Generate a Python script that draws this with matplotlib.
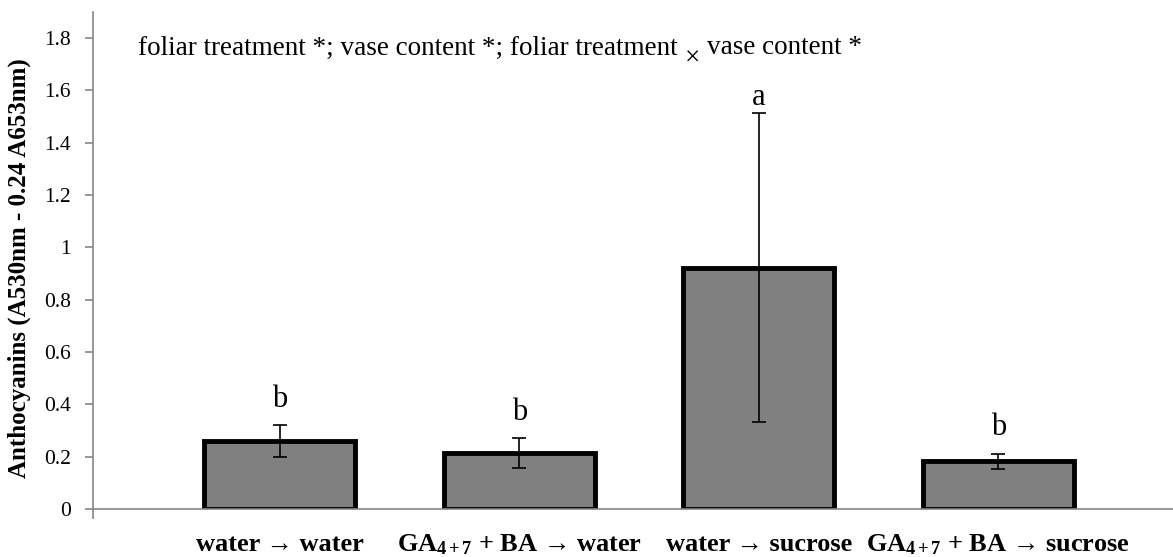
import matplotlib
matplotlib.use("Agg")
import matplotlib.pyplot as plt
import numpy as np

categories = [r"water → water", r"GA$_{\mathbf{4+7}}$ + BA → water",
              r"water → sucrose", r"GA$_{\mathbf{4+7}}$ + BA → sucrose"]
values = [0.26, 0.214, 0.922, 0.182]
errors = [0.06, 0.057, 0.59, 0.03]
letters = ["b", "b", "a", "b"]

plt.rcParams['font.family'] = ['Liberation Serif', 'DejaVu Serif']
plt.rcParams['mathtext.fontset'] = 'custom'
plt.rcParams['mathtext.rm'] = 'Liberation Serif'
plt.rcParams['mathtext.bf'] = 'Liberation Serif:bold'
plt.rcParams['mathtext.it'] = 'Liberation Serif:italic'

fig = plt.figure(figsize=(11.73, 5.57), dpi=100)
ax = fig.add_axes([93/1173, 48/557, 1 - 93/1173, (509-12)/557])

x = np.arange(len(categories))
ax.bar(x, values, width=0.63, color='#808080', edgecolor='black', linewidth=3.5, zorder=2)
ax.errorbar(x, values, yerr=errors, fmt='none', ecolor='black', elinewidth=1.2,
            capsize=5, capthick=1.2, zorder=3)
for xi, v, e, l in zip(x, values, errors, letters):
    off = 8 if l == 'b' else 1
    ax.annotate(l, (xi, v + e), xytext=(0, off), textcoords='offset points',
                ha='center', va='bottom', fontsize=22)

xmin = -0.78
ax.set_xlim(xmin, 3.73)
ax.set_ylim(0, 1.9)
ax.set_yticks(np.arange(0, 1.81, 0.2))
ax.set_yticklabels(['0', '0.2', '0.4', '0.6', '0.8', '1', '1.2', '1.4', '1.6', '1.8'], fontsize=15.5)
ax.set_xticks(x)
ax.set_xticklabels(categories, fontsize=19, fontweight='bold')
ax.set_xticks([xmin], minor=True)
ax.tick_params(axis='x', which='major', length=0, pad=17)
ax.tick_params(axis='x', which='minor', length=7, color='#868686', width=1.2)
ax.tick_params(axis='y', length=6, color='#868686', width=1.2, direction='out', pad=10)
for s in ['top', 'right']:
    ax.spines[s].set_visible(False)
ax.spines['left'].set_color('#868686')
ax.spines['bottom'].set_color('#868686')
ax.spines['left'].set_linewidth(1.2)
ax.spines['bottom'].set_linewidth(1.2)

ax.set_ylabel('Anthocyanins (A530nm - 0.24 A653nm)', fontsize=18, fontweight='bold')
ax.yaxis.set_label_coords((31 - 93) / 1080, (509 - 268) / 497)

# significance note, with a lowered multiplication sign
t1 = fig.text(138/1173, 1 - 48/557, 'foliar treatment *; vase content *; foliar treatment',
              fontsize=19.5, va='center', ha='left')
t2 = ax.annotate('×', xy=(1, 0.5), xycoords=t1, xytext=(5, -8), textcoords='offset points',
                 fontsize=19.5, va='center', ha='left', annotation_clip=False)
t3 = ax.annotate('vase content *', xy=(1, 0.5), xycoords=t2, xytext=(5, 8), textcoords='offset points',
                 fontsize=19.5, va='center', ha='left', annotation_clip=False)

fig.savefig('out.png', dpi=100)
